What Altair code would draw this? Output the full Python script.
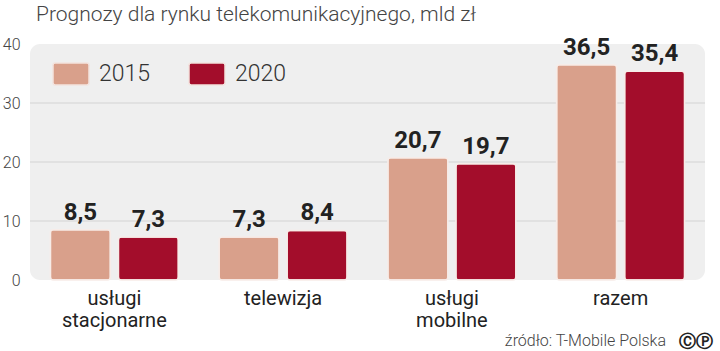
import altair as alt
import pandas as pd

categories = ["usługi|stacjonarne", "telewizja", "usługi|mobilne", "razem"]
values_2015 = [8.5, 7.3, 20.7, 36.5]
values_2020 = [7.3, 8.4, 19.7, 35.4]
years = ["2015", "2020"]
y_ticks = [0, 10, 20, 30, 40]
grid_values = [10, 20, 30]
title_text = "Prognozy dla rynku telekomunikacyjnego, mld zł"
source_text = "źródło: T-Mobile Polska"

rows = []
for c, a, b in zip(categories, values_2015, values_2020):
    rows.append({"cat": c, "year": years[0], "value": a})
    rows.append({"cat": c, "year": years[1], "value": b})
df = pd.DataFrame(rows)
grid_df = pd.DataFrame({"g": grid_values})

W, H = 675, 236
colors = ["#D9A08B", "#A30D2B"]
rounded = ("M -0.88 -0.611 H 0.88 Q 1 -0.611 1 -0.49 V 0.49 Q 1 0.611 0.88 0.611 "
           "H -0.88 Q -1 0.611 -1 0.49 V -0.49 Q -1 -0.611 -0.88 -0.611 Z")

x_enc = alt.X("cat:N", sort=categories, scale=alt.Scale(paddingInner=0, paddingOuter=0),
              axis=alt.Axis(title=None, domain=False, ticks=False, labelAngle=0,
                            labelExpr="split(datum.value, '|')", labelFontSize=20,
                            labelFont="Roboto", labelColor="#222", labelPadding=8,
                            labelLineHeight=22, labelBaseline="top"))
y_scale = alt.Scale(domain=[0, 40], nice=False)
y_axis = alt.Axis(title=None, values=y_ticks, grid=False, domain=False, ticks=False,
                  labelFontSize=16, labelFont="Roboto", labelColor="#444",
                  labelPadding=10, labelFontWeight=300)

grid = alt.Chart(grid_df).mark_rule(color="#d3d3d3", strokeWidth=1).encode(
    y=alt.Y("g:Q", scale=y_scale, axis=y_axis),
    x=alt.value(0), x2=alt.value(W)
)

bars = alt.Chart(df).mark_bar(cornerRadius=3, stroke="#f7ece8", strokeWidth=1.5).encode(
    x=x_enc,
    xOffset=alt.XOffset("year:N", scale=alt.Scale(paddingInner=0.118, paddingOuter=0.3)),
    y=alt.Y("value:Q", scale=y_scale, axis=y_axis),
    color=alt.Color("year:N", scale=alt.Scale(domain=years, range=colors),
                    legend=alt.Legend(title=None, orient="none", legendX=22, legendY=11,
                                      direction="horizontal", symbolType=rounded,
                                      symbolSize=1296, symbolStrokeColor="#f3e3de",
                                      symbolStrokeWidth=1.5, symbolOpacity=1,
                                      labelFontSize=23, labelFont="Roboto",
                                      labelFontWeight=300, labelColor="#333",
                                      labelOffset=9, columnPadding=35, padding=0)),
)

labels = alt.Chart(df).transform_calculate(
    txt="replace(format(datum.value, '.1f'), '.', ',')"
).mark_text(font="Roboto", fontWeight="bold", fontSize=24, color="#222",
            baseline="alphabetic", dy=-10).encode(
    x=alt.X("cat:N", sort=categories),
    xOffset=alt.XOffset("year:N"),
    y=alt.Y("value:Q", scale=y_scale),
    text="txt:N"
)

source = alt.Chart(pd.DataFrame({"t": [source_text]})).mark_text(
    font="Roboto", fontSize=16, fontWeight=300, color="#444", align="right",
    baseline="alphabetic").encode(
    x=alt.value(636), y=alt.value(302), text="t:N")

cc = alt.Chart(pd.DataFrame({"t": ["ⒸⓅ"]})).mark_text(
    font="DejaVu Sans", fontSize=17, fontWeight="bold", color="#222", align="left",
    baseline="alphabetic").encode(
    x=alt.value(649), y=alt.value(303), text="t:N")

chart = alt.layer(grid, bars, labels, source, cc).properties(
    width=W, height=H,
    title=alt.TitleParams(title_text, anchor="start", frame="group", font="Roboto",
                          fontSize=21, fontWeight=300, color="#444", offset=11, dx=6),
    padding={"left": 30, "top": 44, "right": 15, "bottom": 71},
    autosize=alt.AutoSizeParams(type="none"),
    view=alt.ViewBackground(fill="#efefef", stroke=None, cornerRadius=10)
).configure_view(fill="#efefef", stroke=None, cornerRadius=10
).configure(background="white")

chart.save("out.html", embed_options={"renderer": "svg", "actions": False})
